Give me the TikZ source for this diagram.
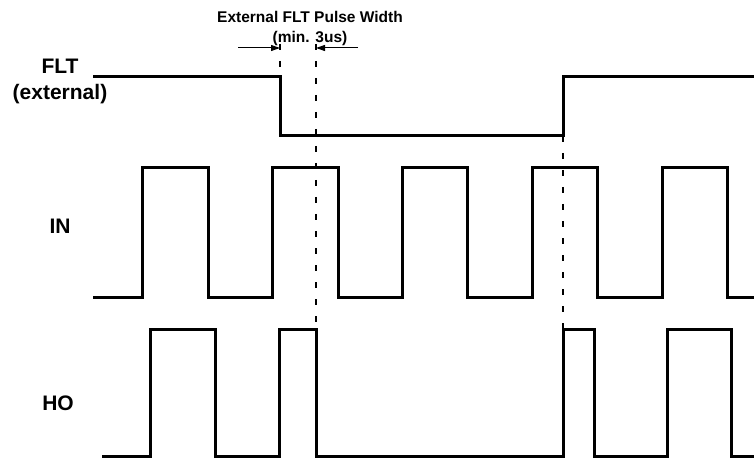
\documentclass[tikz,border=0pt]{standalone}
\usepackage{fontspec}
\setmainfont{Liberation Sans}
\usetikzlibrary{arrows.meta}
\tikzset{
  wave/.style={line width=3pt, line join=miter},
  guide/.style={line width=1.3pt, dash pattern=on 6pt off 11pt},
  dimarrow/.style={line width=1pt, -{Triangle[length=9pt,width=6pt]}},
  siglabel/.style={font=\fontsize{21}{24}\selectfont\bfseries, inner sep=0pt},
  titlelabel/.style={font=\fontsize{15.5}{18}\selectfont\bfseries, inner sep=0pt}
}
\begin{document}
\begin{tikzpicture}[x=1pt,y=-1pt]
\useasboundingbox (0,0) rectangle (754,462);
% labels
\node[titlelabel] (title) at (310,17) {External FLT Pulse Width};
\node[titlelabel] (min) at (310,38) {(min. 3us)};
\node[siglabel] (flt) at (60,66) {FLT};
\node[siglabel] (ext) at (60,94) {(external)};
\node[siglabel] (in) at (60,226) {IN};
\node[siglabel] (ho) at (58,403) {HO};
% waveforms
\draw[wave] (93,76.5) -- (280,76.5) -- (280,136) -- (563,136) -- (563,77) -- (754,77);
\draw[wave] (93,297) -- (142,297) -- (142,168) -- (208,168) -- (208,297)
  -- (272,297) -- (272,168) -- (338,168) -- (338,297)
  -- (402,297) -- (402,168) -- (467,168) -- (467,297)
  -- (532,297) -- (532,168) -- (597,168) -- (597,297)
  -- (662,297) -- (662,168) -- (727,168) -- (727,297) -- (754,297);
\draw[wave] (102,456.5) -- (150,456.5) -- (150,329) -- (215,329) -- (215,456.5)
  -- (279,456.5) -- (279,329) -- (316,329) -- (316,456.5)
  -- (563,456.5) -- (563,329) -- (594,329) -- (594,456.5)
  -- (667,456.5) -- (667,329) -- (731,329) -- (731,456.5) -- (754,456.5);
% guide lines
\coordinate (g1t) at (280,44);
\coordinate (g1b) at (280,136);
\coordinate (g2t) at (316,44);
\coordinate (g2b) at (316,329);
\coordinate (g3t) at (563,136);
\coordinate (g3b) at (563,329);
\draw[guide] (g1t) -- (g1b);
\draw[guide] (g2t) -- (g2b);
\draw[guide] (g3t) -- (g3b);
% dimension arrows
\coordinate (a1s) at (238,48);
\coordinate (a1e) at (280,48);
\coordinate (a2s) at (358,48);
\coordinate (a2e) at (316,48);
\draw[dimarrow] (a1s) -- (a1e);
\draw[dimarrow] (a2s) -- (a2e);
\end{tikzpicture}
\end{document}
